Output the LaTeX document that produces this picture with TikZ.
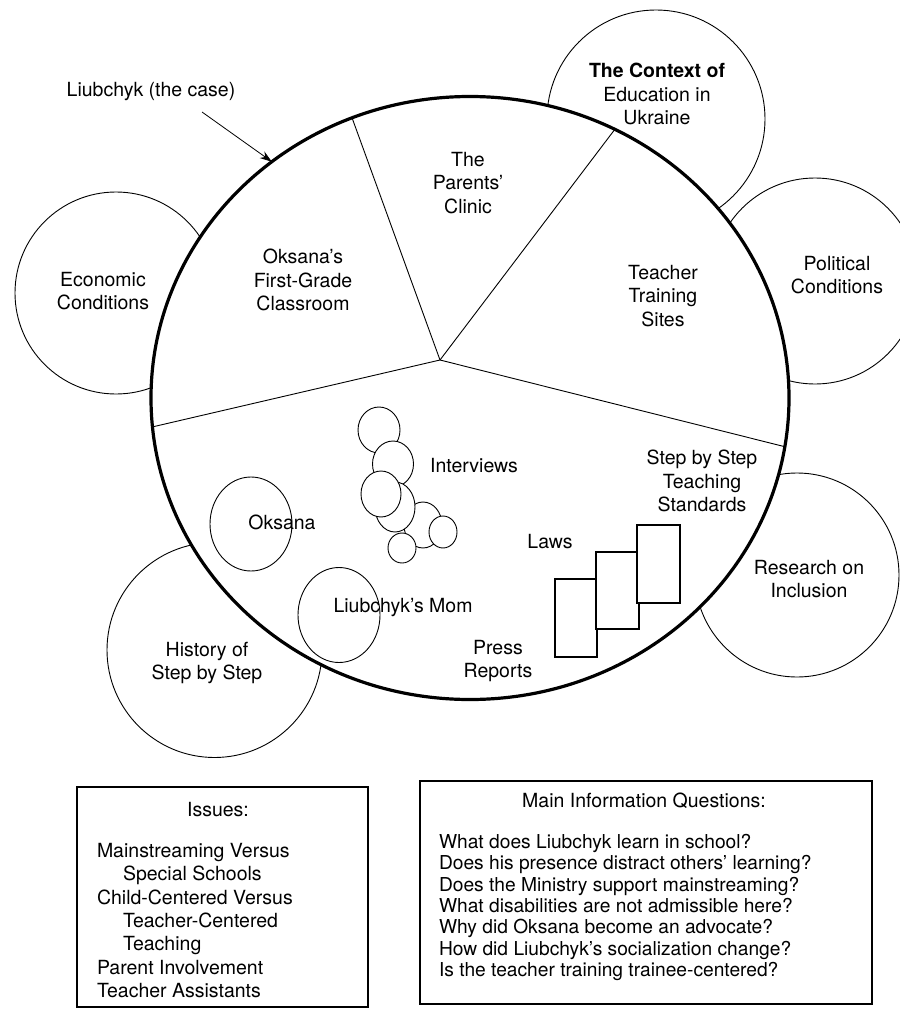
\documentclass[tikz,border=0pt]{standalone}
\usepackage{fontspec}
\setmainfont{TeX Gyre Heros}
\usetikzlibrary{shapes.geometric,arrows.meta}
\begin{document}
\begin{tikzpicture}[x=1pt,y=-1pt,
  every node/.style={font=\fontsize{19.5}{23.4}\selectfont, inner sep=0pt, outer sep=0pt},
  sat/.style={circle, draw, line width=0.9pt},
  mainc/.style={ellipse, draw, fill=white, line width=3.2pt},
  spoke/.style={line width=0.9pt},
  bubble/.style={ellipse, draw, fill=white, line width=0.9pt},
  docbox/.style={rectangle, draw, fill=white, line width=1.1pt},
  infobox/.style={rectangle, draw, line width=1.1pt},
  lbl/.style={align=center},
  qline/.style={anchor=base west, font=\fontsize{19.2}{21.3}\selectfont},
  pointer/.style={line width=0.8pt, -{Stealth[length=12pt,width=8pt]}}
]
\useasboundingbox (0,0) rectangle (899,1014);

% satellite circles
\node[sat, minimum size=202pt] (econ) at (116,293) {};
\node[sat, minimum size=218pt] (context) at (656,119) {};
\node[sat, minimum size=206pt] (polit) at (815,281) {};
\node[sat, minimum size=204pt] (research) at (797,575) {};
\node[sat, minimum size=215pt] (history) at (214.5,650) {};

% main circle
\node[mainc, minimum width=638pt, minimum height=603pt] (main) at (470,398) {};

% spokes
\coordinate (hub) at (440,360);
\coordinate (s1) at ({470+319*cos(111.7)},{398-301.5*sin(111.7)});
\coordinate (s2) at ({470+319*cos(63)},{398-301.5*sin(63)});
\coordinate (s3) at ({470+319*cos(185.5)},{398-301.5*sin(185.5)});
\coordinate (s4) at ({470+319*cos(350.7)},{398-301.5*sin(350.7)});
\draw[spoke] (hub) -- (s1);
\draw[spoke] (hub) -- (s2);
\draw[spoke] (hub) -- (s3);
\draw[spoke] (hub) -- (s4);

% case label and arrow
\node (case) at (151,92) {Liubchyk (the case)};
\coordinate (arrS) at (202,112);
\coordinate (arrE) at ({470+319*cos(128.4)},{398-301.5*sin(128.4)});
\draw[pointer] (arrS) -- (arrE);

% satellite labels
\node[lbl] (econT) at (103,291) {Economic\\Conditions};
\node[lbl] (contextT) at (657,94) {\textbf{The Context of}\\Education in\\Ukraine};
\node[lbl] (politT) at (837,275) {Political\\Conditions};
\node[lbl] (researchT) at (809,579) {Research on\\Inclusion};
\node[lbl] (historyT) at (207,663) {History of\\Step by Step};

% sector labels
\node[lbl] (classT) at (303,280) {Oksana's\\First-Grade\\Classroom};
\node[lbl] (clinicT) at (468,183) {The\\Parents'\\Clinic};
\node[lbl] (trainT) at (663,296) {Teacher\\Training\\Sites};

% interview bubbles
\node[bubble, minimum width=42pt, minimum height=46pt] (i1) at (379,430) {};
\node[bubble, minimum width=41pt, minimum height=46pt] (i2) at (393,464) {};
\node[bubble, minimum width=38pt, minimum height=46pt] (i5) at (423,525) {};
\node[bubble, minimum width=40pt, minimum height=50pt] (i4) at (395,507) {};
\node[bubble, minimum width=40pt, minimum height=46pt] (i3) at (381,494) {};
\node[bubble, minimum width=28pt, minimum height=32pt] (i6) at (443,532) {};
\node[bubble, minimum width=28pt, minimum height=30pt] (i7) at (402,548) {};
\node (interT) at (474,466) {Interviews};

% people
\node[bubble, fill=none, minimum width=82pt, minimum height=94pt] (oks) at (251,524) {};
\node (oksT) at (282,522) {Oksana};
\node[bubble, fill=none, minimum width=82pt, minimum height=95pt] (mom) at (339,615) {};
\node (momT) at (403,608) {Liubchyk's Mom};

% documents
\node[docbox, minimum width=42pt, minimum height=78pt] (d1) at (576,618) {};
\node[docbox, minimum width=43pt, minimum height=77pt] (d2) at (617.5,590.5) {};
\node[docbox, minimum width=43pt, minimum height=78pt] (d3) at (658.5,564) {};
\node (lawsT) at (550,542) {Laws};
\node[lbl] (pressT) at (498,661) {Press\\Reports};
\node[lbl] (stdT) at (702,481) {Step by Step\\Teaching\\Standards};

% issues box
\node[infobox, minimum width=291pt, minimum height=220pt] (issues) at (222.5,897) {};
\node (issuesT) at (218,810) {Issues:};
\node[align=left, anchor=north west] (issuesL) at (97,843) {Mainstreaming Versus\\
\hspace*{26pt}Special Schools\\
Child-Centered Versus\\
\hspace*{26pt}Teacher-Centered\\
\hspace*{26pt}Teaching\\
Parent Involvement\\
Teacher Assistants};

% questions box
\node[infobox, minimum width=452pt, minimum height=223pt] (quest) at (646,892.5) {};
\node (questT) at (644,801) {Main Information Questions:};
\foreach \t [count=\i from 0] in {What does Liubchyk learn in school?,
  Does his presence distract others' learning?,
  Does the Ministry support mainstreaming?,
  What disabilities are not admissible here?,
  Why did Oksana become an advocate?,
  How did Liubchyk's socialization change?,
  Is the teacher training trainee-centered?}
  \node[qline] (q\i) at (439,{848.5+21.3*\i}) {\t};
\end{tikzpicture}
\end{document}
